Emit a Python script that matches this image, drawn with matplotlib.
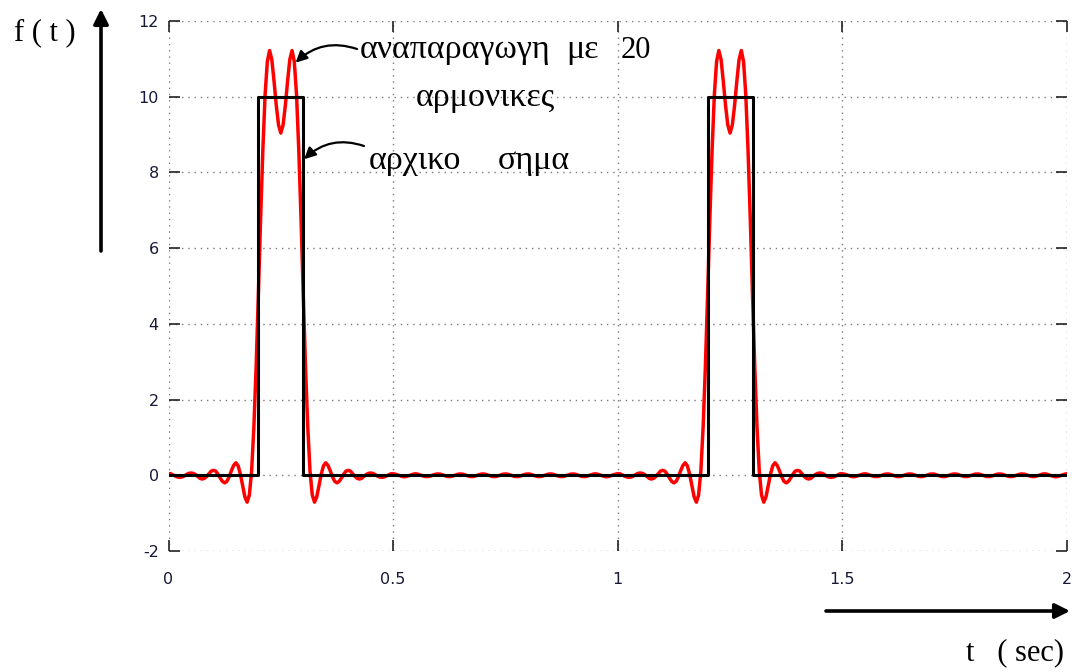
import numpy as np
import matplotlib
matplotlib.use('Agg')
import matplotlib.pyplot as plt

plt.rcParams['axes.unicode_minus'] = False

# ---- data -----------------------------------------------------------
# original signal: rectangular pulses of height 10, width 0.1 s, period 1 s
square_t = [0.0, 0.2, 0.3, 1.2, 1.3, 2.0]
square_f = [0, 10, 0, 10, 0, 0]

period = 1.0
step = 0.005
f_period = [
    0.04, 0.04, 0.01, -0.02, -0.045, -0.055, -0.045, -0.02, 0.02, 0.05,
    0.06, 0.05, 0.02, -0.03, -0.08, -0.10, -0.08, -0.03, 0.04, 0.11,
    0.13, 0.11, 0.03, -0.07, -0.16, -0.20, -0.16, -0.04, 0.12, 0.26,
    0.33, 0.25, 0.03, -0.27, -0.57, -0.71, -0.52, 0.11, 1.27, 2.85,
    4.76, 6.77, 8.59, 10.05, 10.93, 11.22, 10.98, 10.40, 9.76, 9.25,
    9.04, 9.25, 9.76, 10.40, 10.98, 11.22, 10.93, 10.05, 8.59, 6.77,
    4.76, 2.85, 1.27, 0.11, -0.52, -0.71, -0.57, -0.27, 0.03, 0.25,
    0.33, 0.26, 0.12, -0.04, -0.16, -0.20, -0.16, -0.07, 0.03, 0.11,
    0.13, 0.11, 0.04, -0.03, -0.08, -0.10, -0.08, -0.03, 0.02, 0.05,
    0.06, 0.05, 0.02, -0.02, -0.045, -0.055, -0.045, -0.02, 0.01, 0.04,
    0.04, 0.03, 0.01, -0.01, -0.03, -0.04, -0.03, -0.01, 0.01, 0.03,
    0.04, 0.03, 0.01, -0.01, -0.03, -0.035, -0.03, -0.01, 0.01, 0.03,
    0.035, 0.03, 0.01, -0.01, -0.03, -0.035, -0.03, -0.01, 0.01, 0.03,
    0.035, 0.03, 0.01, -0.01, -0.03, -0.035, -0.03, -0.01, 0.01, 0.03,
    0.035, 0.03, 0.01, -0.01, -0.03, -0.035, -0.03, -0.01, 0.01, 0.03,
    0.035, 0.03, 0.01, -0.01, -0.03, -0.035, -0.03, -0.01, 0.01, 0.03,
    0.035, 0.03, 0.01, -0.01, -0.03, -0.035, -0.03, -0.01, 0.01, 0.03,
    0.035, 0.03, 0.01, -0.01, -0.03, -0.035, -0.03, -0.01, 0.01, 0.03,
    0.035, 0.03, 0.01, -0.01, -0.03, -0.035, -0.03, -0.01, 0.01, 0.03,
    0.04, 0.03, 0.01, -0.01, -0.03, -0.04, -0.03, -0.01, 0.01, 0.03,
]
n_periods = 2

x_ticks = [0, 0.5, 1, 1.5, 2]
x_labels = ['0', '0.5', '1', '1.5', '2']
y_ticks = [-2, 0, 2, 4, 6, 8, 10, 12]

# ---- figure ---------------------------------------------------------
W, H = 1082, 672
fig = plt.figure(figsize=(W / 100, H / 100), dpi=100)
ax = fig.add_axes([168.5 / W, 1 - 551 / H, (1067 - 168.5) / W, (551 - 21) / H])

n = len(f_period)
t_red = np.arange(n * n_periods + 1) * step
f_red = np.append(np.tile(f_period, n_periods), f_period[0])

ax.plot(t_red, f_red, color='#ff0000', lw=2.5, solid_joinstyle='round', zorder=3)
ax.plot(square_t, square_f, color='black', lw=2.2, drawstyle='steps-post', zorder=4)

ax.set_xlim(0, 2)
ax.set_ylim(-2, 12)
ax.set_xticks(x_ticks)
ax.set_xticklabels(x_labels)
ax.set_yticks(y_ticks)

for s in ax.spines.values():
    s.set_visible(False)
ax.grid(True, color='#7a7a7a', lw=1.0, linestyle=(0, (1, 3.5)))
ax.set_axisbelow(True)
ax.tick_params(axis='both', direction='in', length=8, width=1.2, color='#222222',
               top=True, right=True, labelsize=11.5, labelcolor='#181838')
ax.tick_params(axis='x', pad=15)
ax.tick_params(axis='y', pad=7)

# ---- annotations in figure pixels ----------------------------------
def fp(x, y):
    return (x / W, 1 - y / H)

serif = 'Liberation Serif'
fs = 22
fs_gr = 24.5
fig.text(*fp(14, 33), 'f ( t )', family=serif, fontsize=fs, va='center', ha='left')
fig.text(*fp(1064, 653), 't   ( sec)', family=serif, fontsize=fs, va='center', ha='right')
fig.text(*fp(621, 50), '20', family=serif, fontsize=fs, va='center', ha='left')
for word, x, y in [('αναπαραγωγη', 360, 50), ('με', 566, 50),
                   ('αρμονικες', 416, 98), ('αρχικο', 369, 161), ('σημα', 498, 161)]:
    fig.text(*fp(x, y), word, family=serif, fontsize=fs_gr, va='center', ha='left')

straight = dict(arrowstyle='-|>', color='black', lw=2.6, mutation_scale=22,
                shrinkA=0, shrinkB=0)
fig.add_artist(matplotlib.patches.FancyArrowPatch(fp(101, 251), fp(101, 9),
               transform=fig.transFigure, **straight))
fig.add_artist(matplotlib.patches.FancyArrowPatch(fp(826, 611), fp(1070, 611),
               transform=fig.transFigure, **straight))

curved = dict(arrowstyle='-|>', color='black', lw=1.6, mutation_scale=17,
              shrinkA=0, shrinkB=0, connectionstyle='arc3,rad=0.3')
ax.annotate('', xy=(0.283, 10.9), xycoords='data', xytext=fp(357, 49),
            textcoords='figure fraction', arrowprops=curved)
ax.annotate('', xy=(0.302, 8.35), xycoords='data', xytext=fp(364, 146),
            textcoords='figure fraction', arrowprops=curved)

fig.savefig('out.png', dpi=100)
